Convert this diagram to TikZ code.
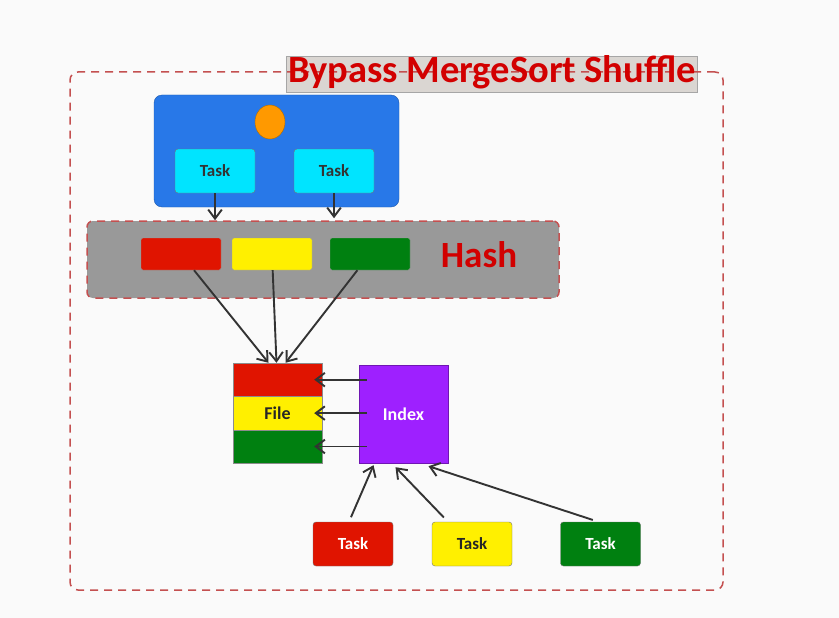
\documentclass[tikz,border=0pt]{standalone}
\usepackage{fontspec}
\setmainfont{Carlito}
\usetikzlibrary{arrows.meta, shapes.geometric}
\definecolor{framered}{RGB}{196,80,80}
\definecolor{titlered}{RGB}{210,0,0}
\definecolor{titlegray}{RGB}{218,214,210}
\definecolor{execblue}{RGB}{40,120,232}
\definecolor{taskcyan}{RGB}{0,228,255}
\definecolor{hashgray}{RGB}{153,153,153}
\definecolor{bucketred}{RGB}{224,20,0}
\definecolor{bucketyellow}{RGB}{255,240,0}
\definecolor{bucketgreen}{RGB}{0,128,16}
\definecolor{indexpurple}{RGB}{158,32,255}
\definecolor{dotorange}{RGB}{255,153,0}

\begin{document}
\begin{tikzpicture}[
    x=1pt, y=-1pt,
    task/.style={draw=black!55, rounded corners=3pt, minimum width=80pt, minimum height=44pt, inner sep=0pt, font=\fontsize{17}{20}\selectfont\bfseries},
    bucket/.style={draw=black!40, rounded corners=2pt, minimum width=80pt, minimum height=32pt, inner sep=0pt},
    stripe/.style={draw=black!45, minimum width=89pt, minimum height=33.4pt, inner sep=0pt, font=\fontsize{18}{21}\selectfont\bfseries},
    dashframe/.style={draw=framered, dash pattern=on 8pt off 6pt, line width=1.5pt},
    arrow/.style={-{Straight Barb[length=3.2mm, width=4.8mm]}, line width=1.9pt, draw=black!80}
]
    % Page
    \fill[gray!4] (0,0) rectangle (839,618);
    \useasboundingbox (0,0) rectangle (839,618);

    % Title and frame
    \node[fill=titlegray, draw=black!35, minimum width=411pt, minimum height=36pt, inner sep=0pt] (titlebox) at (491.5,74) {};
    \node[dashframe, rounded corners=8pt, minimum width=653pt, minimum height=518pt] (frame) at (396.5,331) {};
    \node[text=titlered, font=\fontsize{38.5}{41}\selectfont\bfseries] (title) at (492,72) {Bypass MergeSort Shuffle};

    % Executor with two tasks
    \node[fill=execblue, draw=execblue!75!black, rounded corners=8pt, minimum width=245pt, minimum height=112pt] (executor) at (276.5,151) {};
    \node[ellipse, fill=dotorange, draw=dotorange!70!black, minimum width=30pt, minimum height=34pt, inner sep=0pt] (dot) at (270,122) {};
    \node[task, fill=taskcyan, text=black!80] (taskA) at (215,171) {Task};
    \node[task, fill=taskcyan, text=black!80] (taskB) at (334,171) {Task};

    % Hash buckets
    \node[dashframe, fill=hashgray, rounded corners=6pt, minimum width=472pt, minimum height=77pt] (hash) at (323,259.5) {};
    \node[bucket, fill=bucketred] (bucketR) at (181,254) {};
    \node[bucket, fill=bucketyellow] (bucketY) at (272,254) {};
    \node[bucket, fill=bucketgreen] (bucketG) at (370,254) {};
    \node[text=titlered, font=\fontsize{37}{40}\selectfont\bfseries] (hashlabel) at (479,255) {Hash};

    % File and index
    \node[stripe, fill=bucketred] (fileR) at (277.5,379.7) {};
    \node[stripe, fill=bucketyellow, text=black!85] (fileY) at (277.5,413.1) {File};
    \node[stripe, fill=bucketgreen] (fileG) at (277.5,446.5) {};
    \node[fill=indexpurple, draw=indexpurple!70!black, minimum width=89pt, minimum height=98pt, inner sep=0pt, text=white, font=\fontsize{18}{21}\selectfont\bfseries] (index) at (403.5,414) {Index};

    % Reduce tasks
    \node[task, fill=bucketred, text=white] (taskR) at (353,544) {Task};
    \node[task, fill=bucketyellow, text=black!85] (taskY) at (472,544) {Task};
    \node[task, fill=bucketgreen, text=white] (taskG) at (600.5,544) {Task};

    % Connections
    \draw[arrow] (taskA.south) -- (taskA.south |- hash.north);
    \draw[arrow] (taskB.south) -- ([yshift=2pt]taskB.south |- hash.north);
    \draw[arrow] (bucketR) -- ([xshift=-9pt]fileR.north);
    \draw[arrow] (bucketY) -- ([xshift=-1pt]fileR.north);
    \draw[arrow] (bucketG) -- ([xshift=8pt]fileR.north);
    \draw[arrow] ([xshift=8pt]index.west |- fileR) -- ([xshift=-8pt]fileR.east);
    \draw[arrow] ([xshift=8pt]index.west |- fileY) -- ([xshift=-8pt]fileY.east);
    \draw[arrow] ([xshift=8pt]index.west |- fileG) -- ([xshift=-8pt]fileG.east);
    \draw[arrow, shorten <=5pt] ([xshift=-4pt]taskR.north) -- ([xshift=-30pt,yshift=-2pt]index.south);
    \draw[arrow, shorten <=6pt] ([xshift=-24pt]taskY.north) -- ([xshift=-8pt,yshift=-4pt]index.south);
    \draw[arrow, shorten <=6pt] ([xshift=-2pt]taskG.north) -- ([xshift=25pt,yshift=-3pt]index.south);
\end{tikzpicture}
\end{document}
